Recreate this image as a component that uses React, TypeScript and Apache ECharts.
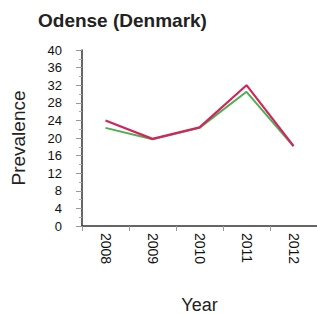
import React, { useEffect, useRef } from "react";
import * as echarts from "echarts";

const years = ["2008", "2009", "2010", "2011", "2012"];
const redValues = [24.0, 19.8, 22.4, 32.0, 18.2];
const greenValues = [22.3, 19.7, 22.3, 30.5, 18.1];
const yTicks = { min: 0, max: 40, interval: 4 };

export default function App() {
  const ref = useRef<HTMLDivElement>(null);
  useEffect(() => {
    if (!ref.current) return;
    const chart = echarts.init(ref.current, null, { renderer: "svg" });
    chart.setOption({
      animation: false,
      backgroundColor: "#ffffff",
      title: {
        text: "Odense (Denmark)",
        left: 33,
        top: 6,
        textStyle: { fontFamily: "Liberation Sans, Arial", fontSize: 19, fontWeight: "bold", color: "#222" },
      },
      grid: { left: 82, top: 50, right: 0, bottom: 89, containLabel: false, outerBoundsMode: "none" },
      xAxis: {
        type: "category",
        data: years,
        boundaryGap: true,
        name: "Year",
        nameLocation: "middle",
        nameGap: 70,
        nameTextStyle: { fontFamily: "Liberation Sans, Arial", fontSize: 18, color: "#222" },
        axisLine: { show: true, lineStyle: { color: "#333", width: 1.5 } },
        axisTick: { show: true, alignWithLabel: false, length: 5, lineStyle: { color: "#999" } },
        axisLabel: {
          rotate: -90,
          margin: 7,
          fontFamily: "Liberation Sans, Arial",
          fontSize: 14,
          color: "#111",
        },
        splitLine: { show: false },
      },
      yAxis: {
        type: "value",
        min: yTicks.min,
        max: yTicks.max,
        interval: yTicks.interval,
        name: "Prevalence",
        nameLocation: "middle",
        nameGap: 54,
        nameRotate: 90,
        nameTextStyle: { fontFamily: "Liberation Sans, Arial", fontSize: 19, color: "#222" },
        axisLine: { show: true, lineStyle: { color: "#333", width: 1.5 } },
        axisTick: { show: true, length: 6, lineStyle: { color: "#999" } },
        minorTick: { show: true, splitNumber: 2, length: 3, lineStyle: { color: "#aaa" } },
        axisLabel: {
          margin: 20,
          fontFamily: "Liberation Sans, Arial",
          fontSize: 13,
          color: "#111",
        },
        splitLine: { show: false },
      },
      series: [
        {
          type: "line",
          data: greenValues,
          symbol: "none",
          lineStyle: { color: "#4cb050", width: 2 },
          z: 2,
        },
        {
          type: "line",
          data: redValues,
          symbol: "none",
          lineStyle: { color: "#d4245e", width: 2.2 },
          z: 3,
        },
      ],
    });
    return () => chart.dispose();
  }, []);
  return <div ref={ref} style={{ width: 317, height: 315, position: "absolute", left: 0, top: 0 }} />;
}
